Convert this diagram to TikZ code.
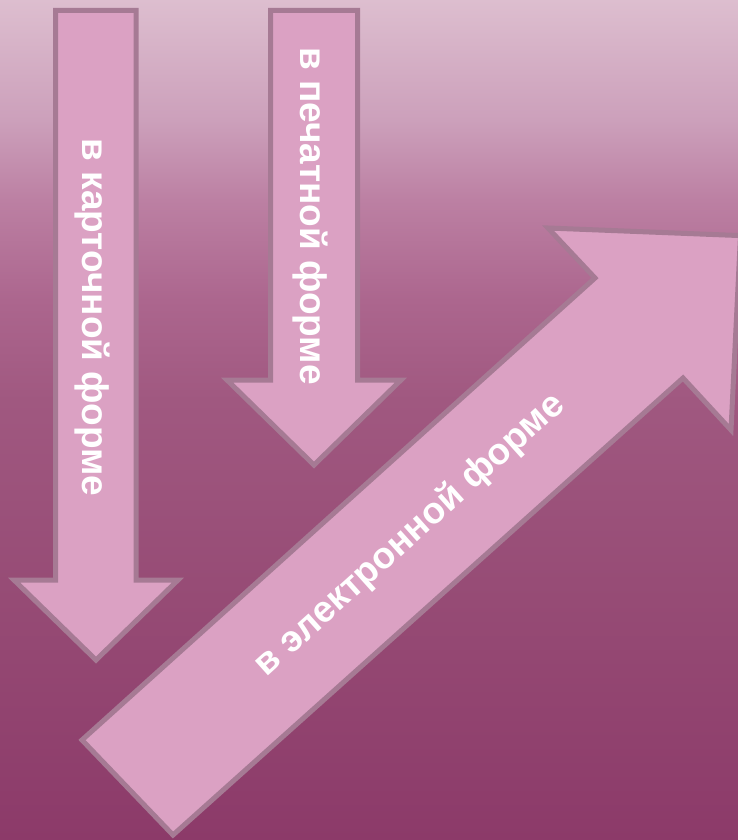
\documentclass[tikz,border=0pt]{standalone}
\usepackage{fontspec}
\setmainfont{Liberation Sans}
\definecolor{bgA}{RGB}{221,190,207}
\definecolor{bgB}{RGB}{204,160,187}
\definecolor{bgC}{RGB}{188,128,163}
\definecolor{bgD}{RGB}{172,102,142}
\definecolor{bgE}{RGB}{160,88,128}
\definecolor{bgF}{RGB}{150,75,117}
\definecolor{bgG}{RGB}{140,58,105}
\definecolor{arrowfill}{RGB}{219,161,195}
\definecolor{arrowline}{RGB}{166,122,148}
\pgfdeclareverticalshading{bgshade}{100bp}{color(0bp)=(bgG); color(25bp)=(bgG); color(39.29bp)=(bgF); color(51.19bp)=(bgE); color(57.14bp)=(bgD); color(63.1bp)=(bgC); color(67.86bp)=(bgB); color(75bp)=(bgA); color(100bp)=(bgA)}
\tikzset{
  bigarrow/.style={fill=arrowfill, draw=arrowline, line width=5pt, line join=miter},
  arrowtext/.style={text=white, font=\fontsize{37}{44}\selectfont\bfseries, inner sep=0pt}
}
\begin{document}
\begin{tikzpicture}[x=1pt,y=-1pt]
\useasboundingbox (0,0) rectangle (738,840);
\clip (0,0) rectangle (738,840);
\shade[shading=bgshade] (0,0) rectangle (738,840);
% arrow 1
\draw[bigarrow] (55.5,10.5) -- (136,10.5) -- (136,580) -- (178,580) -- (96,660) -- (14,580) -- (55.5,580) -- cycle;
% arrow 2
\draw[bigarrow] (270.5,10.5) -- (357.5,10.5) -- (357.5,380) -- (401,380) -- (314,465) -- (227,380) -- (270.5,380) -- cycle;
% arrow 3
\draw[bigarrow] (82,740) -- (595,278) -- (548,228) -- (740.5,235.6) -- (731,430) -- (683,378) -- (173,835) -- cycle;
\node[arrowtext, rotate=-90] (t1) at (92,317.5) {в карточной форме};
\node[arrowtext, rotate=-90] (t2) at (310,216) {в печатной форме};
\node[arrowtext, rotate=42] (t3) at (410,535) {в электронной форме};
\end{tikzpicture}
\end{document}
